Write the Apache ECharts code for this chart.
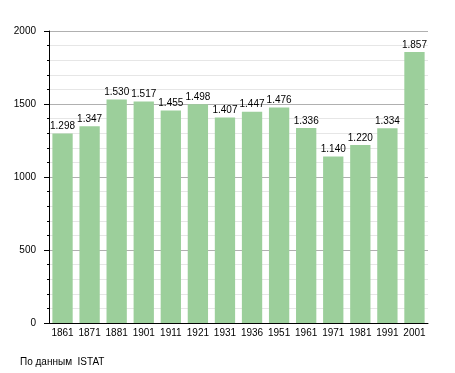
<!DOCTYPE html>
<html><head><meta charset="utf-8">
<script src="https://cdn.jsdelivr.net/npm/echarts@6/dist/echarts.min.js"></script>
<style>html,body{margin:0;padding:0;background:#fff}#c{width:455px;height:373px}</style>
</head><body><div id="c"></div>
<script>
const years = ['1861','1871','1881','1901','1911','1921','1931','1936','1951','1961','1971','1981','1991','2001'];
const population = [1298,1347,1530,1517,1455,1498,1407,1447,1476,1336,1140,1220,1334,1857];
const yTicks = [0,500,1000,1500,2000];
const sourceText = 'По данным  ISTAT';

const chart = echarts.init(document.getElementById('c'));
const fmt = v => { const s = String(v); return s.length > 3 ? s.slice(0, s.length-3) + '.' + s.slice(-3) : s; };
chart.setOption({
  animation: false,
  textStyle: { fontFamily: 'Liberation Sans, Arial, sans-serif' },
  grid: { left: 49, top: 31, width: 379, height: 292, containLabel: false },
  graphic: [{ type: 'text', left: 20, top: 357, style: { text: sourceText, font: '10px Liberation Sans, Arial, sans-serif', fill: '#000' } }],
  xAxis: {
    type: 'category', data: years,
    axisLine: { show: true, lineStyle: { color: '#000', width: 1 } },
    axisTick: { show: false },
    axisLabel: { color: '#000', fontSize: 10, margin: 5, interval: 0 }
  },
  yAxis: {
    type: 'value', min: 0, max: 2000, interval: 500,
    axisLine: { show: true, lineStyle: { color: '#000', width: 1 } },
    axisTick: { show: true, length: 5, lineStyle: { color: '#000' } },
    minorTick: { show: true, splitNumber: 5, length: 2, lineStyle: { color: '#000' } },
    splitLine: { show: true, lineStyle: { color: '#b0b0b0', width: 1 } },
    minorSplitLine: { show: true, lineStyle: { color: '#e6e6e6', width: 1 } },
    axisLabel: { color: '#000', fontSize: 10, margin: 13, formatter: v => String(v) }
  },
  series: [{
    type: 'bar', data: population, barCategoryGap: '25%',
    itemStyle: { color: '#9ccf9b' },
    label: { show: true, position: 'top', distance: 2, color: '#000', fontSize: 10, formatter: p => fmt(p.value) }
  }]
});
</script></body></html>
